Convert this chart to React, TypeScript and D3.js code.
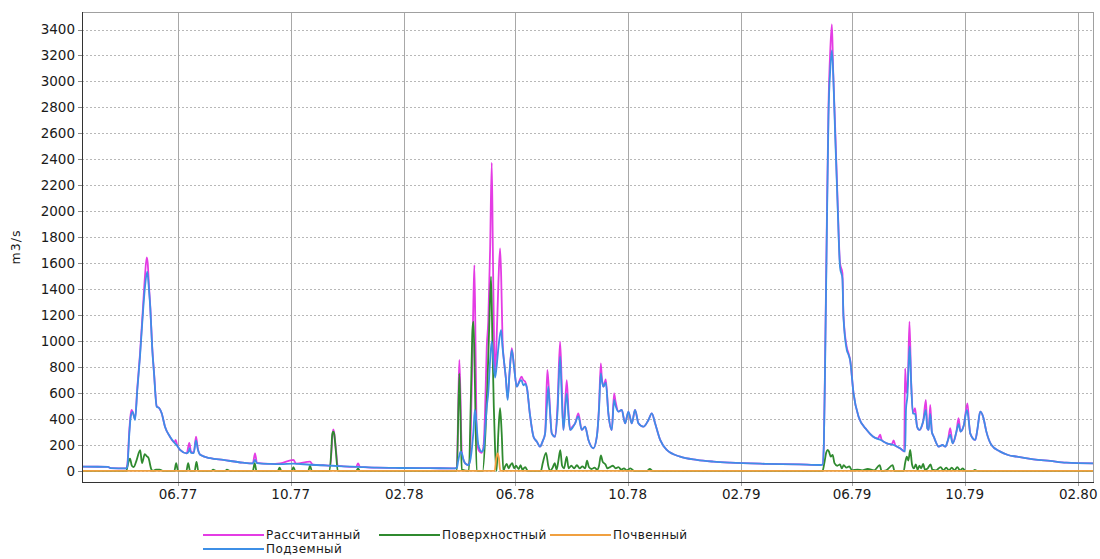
import React from "react";
import * as d3 from "d3";

// Daily runoff model output, 17.02.1977 – 17.02.1980.
// Each series is a list of [day of record, discharge m3/s].
const recordStart = new Date(1977, 1, 17);
const recordEnd = new Date(1980, 1, 17);

const monthTicks = ["1977-06", "1977-10", "1978-02", "1978-06", "1978-10", "1979-02", "1979-06", "1979-10", "1980-02"];
const flowTicks = [0, 200, 400, 600, 800, 1000, 1200, 1400, 1600, 1800, 2000, 2200, 2400, 2600, 2800, 3000, 3200, 3400];

// Рассчитанный (total computed discharge)
const calculated: [number, number][] = [
  [0, 33], [28, 32], [31, 22], [48, 20], [49, 40], [51.3, 320], [52.8, 440], [53.8, 470], [55.5, 440], [57.4, 400],
  [59.9, 640], [62.8, 900], [65.7, 1220], [68, 1480], [70.1, 1645], [71.2, 1600], [72.5, 1430], [74, 1260], [76, 960],
  [78, 760], [80.9, 500], [83.7, 483], [86.3, 444], [89.9, 341], [95.3, 264], [100, 220], [101.5, 239], [103, 200],
  [106.2, 162], [113.4, 136], [116.2, 216], [118, 150], [121, 140], [123.5, 264], [125.5, 170], [128, 125], [139, 98],
  [153, 85], [174, 64], [185, 58], [187.4, 136], [189.5, 62], [204, 54], [214.5, 58], [229, 85], [232, 56], [247, 72],
  [250, 48], [261, 44], [269, 40], [270.5, 190], [272, 320], [273, 300], [275, 170], [277, 40], [283, 36], [297, 32],
  [299, 59], [301, 31], [319, 25], [345, 23], [377, 22], [404, 20],
  [406, 25], [407.5, 500], [408.7, 855], [410, 550], [411.3, 149], [413, 90], [415, 59], [418.5, 46], [420, 80],
  [422, 600], [423.9, 1300], [425, 1586], [426.5, 800], [427.5, 300], [429.3, 165], [433, 140], [435, 200], [436.5, 450],
  [438.4, 957], [440, 1150], [442, 1700], [443.8, 2374], [445, 1700], [446.5, 900], [447.4, 754], [449, 1000],
  [451, 1450], [452.8, 1714], [454, 1500], [455.5, 1000], [457, 850], [459, 720], [461, 560], [463, 750], [465.5, 945],
  [468, 800], [470.9, 649], [474, 700], [476, 726], [478, 700], [480, 688], [482, 636], [485, 444], [489, 264],
  [492.6, 226], [496, 187], [499, 230], [501.6, 290], [504, 778], [505.5, 650], [508.8, 290], [512.4, 264], [515, 500],
  [517.8, 996], [519.5, 700], [521.4, 316], [525, 700], [527, 450], [528.7, 316], [531, 340], [534.1, 367], [537.6, 444],
  [541.3, 316], [544.9, 341], [548.5, 239], [553.9, 175], [557.6, 264], [560, 500], [561.9, 829], [563, 720],
  [564.7, 649], [567.3, 706], [570.1, 444], [573.8, 316], [576.3, 598], [578, 530], [581, 457], [584.6, 470],
  [588.2, 367], [591.8, 457], [595.5, 367], [599, 470], [602.7, 367], [608, 341], [613.5, 393], [617.2, 444],
  [620.7, 367], [626.2, 239], [633.4, 162], [647.8, 110], [665.9, 85], [683.9, 72], [702, 64], [740, 55], [777, 50],
  [800, 46], [802, 48], [803.5, 210], [805, 950], [806.7, 1900], [808.5, 2800], [810.5, 3250], [812.2, 3440],
  [813.5, 3100], [815.7, 2650], [818.2, 2120], [821, 1600], [823.6, 1524], [824.7, 1200], [828.4, 950], [830, 910],
  [832, 855], [835.6, 600], [841, 420], [850, 316], [857, 264], [862, 250], [864.5, 280], [866, 240], [871.7, 213],
  [877, 205], [879, 235], [881, 195], [886, 175], [890.5, 150], [891.5, 790], [893, 600], [894.5, 700], [896.2, 1150],
  [898, 700], [900, 444], [902.3, 483], [904.5, 341], [907, 316], [911, 380], [914, 547], [915.5, 330], [917, 316],
  [918.7, 508], [920.5, 300], [922.5, 264], [928, 187], [932, 200], [935, 187], [938, 240], [940.3, 330], [943, 213],
  [947, 300], [949.4, 406], [951.5, 303], [955, 350], [959, 521], [961, 350], [962, 290], [967.5, 239], [970, 330],
  [972.8, 457], [976, 418], [979.5, 303], [985, 200], [994.5, 149], [1003, 123], [1012.6, 110], [1030.6, 90],
  [1048.6, 77], [1066, 64], [1095, 59],
];

// Поверхностный (surface runoff)
const surface: [number, number][] = [
  [0, 0], [48, 0], [50, 60], [52, 95], [54, 40], [56, 30], [59, 80], [63, 160], [65, 60], [68, 130], [70, 115],
  [72, 100], [75, 15], [77, 0], [80, 10], [84, 10], [88, 0], [100, 0], [102, 60], [104, 0], [113, 0], [115, 60],
  [117, 0], [122, 0], [124, 70], [126, 0], [140, 0], [142, 10], [145, 0], [155, 0], [157, 10], [160, 0], [185, 0],
  [187, 60], [189, 0], [212, 0], [214, 25], [216, 0], [227, 0], [229, 30], [231, 0], [245, 0], [247, 40], [249, 0],
  [268, 0], [270, 150], [271, 280], [272, 303], [273, 290], [275, 150], [277, 0], [297, 0], [299, 20], [301, 0],
  [406, 0], [408.7, 752], [410, 400], [411.3, 10], [419, 0], [421, 500], [423, 1100], [424, 1150], [425.5, 700],
  [427.5, 0], [434, 0], [437, 300], [439, 650], [441, 1100], [443, 1496], [444.5, 1000], [446, 500], [447.5, 150],
  [449, 0], [451, 300], [452.8, 483], [454.5, 300], [456.4, 0], [458, 30], [460, 55], [462, 20], [464, 45], [466, 60],
  [468, 20], [470, 40], [473, 15], [475, 45], [477, 10], [480, 30], [483, 0], [497, 0], [499, 60], [502.6, 140],
  [505, 40], [507, 0], [510, 30], [512, 60], [514, 10], [516, 80], [518, 160], [520, 40], [522, 20], [525, 110],
  [527, 20], [530, 40], [533, 20], [536, 45], [539, 20], [542, 35], [545, 20], [547, 80], [549, 30], [552, 15],
  [555, 25], [558, 10], [560, 40], [562, 120], [564, 70], [567, 50], [569, 20], [572, 30], [575, 40], [578, 20],
  [581, 30], [584, 10], [587, 20], [590, 5], [594, 20], [598, 0], [612, 0], [615, 15], [618, 0], [802, 0], [804, 60],
  [806, 140], [807.5, 162], [809, 150], [811, 110], [813, 123], [815, 60], [818, 40], [821, 50], [823, 20], [825, 45],
  [828, 25], [831, 35], [834, 5], [840, 10], [845, 5], [851, 15], [858, 5], [864, 45], [866, 0], [871, 5], [878, 45],
  [880, 0], [890, 0], [891.5, 60], [893.4, 110], [895, 80], [897, 162], [899, 50], [901, 20], [903, 50], [905, 10],
  [907, 40], [909, 20], [911, 55], [913, 10], [916, 20], [919, 50], [921, 10], [925, 5], [930, 30], [933, 5],
  [936, 25], [939, 5], [942, 25], [945, 5], [948, 30], [951, 5], [954, 20], [957, 0], [965, 0], [967, 8], [970, 0],
  [1095, 0],
];

// Почвенный (soil / interflow)
const soil: [number, number][] = [
  [0, 0], [447, 0], [448.5, 90], [450, 136], [451.5, 100], [453, 0], [1095, 0],
];

// Подземный (groundwater)
const ground: [number, number][] = [
  [0, 33], [28, 32], [31, 22], [48, 20], [49, 30], [51.3, 292], [52.8, 418], [54.9, 455], [57.4, 393], [59.9, 624],
  [62.8, 880], [65.7, 1188], [68, 1400], [70.7, 1535], [72.5, 1400], [74, 1250], [76, 950], [78, 752], [80.9, 495],
  [83.7, 483], [86.3, 444], [89.9, 341], [95.3, 264], [100.7, 213], [103, 195], [106.2, 162], [113.4, 136],
  [115.5, 150], [116.5, 175], [118, 140], [121, 138], [123.5, 235], [125.5, 165], [128, 125], [139, 98], [153, 85],
  [174, 64], [185, 58], [187.4, 85], [189.5, 60], [204, 54], [215, 52], [229, 56], [247, 48], [261, 44], [271, 40],
  [283, 36], [299, 32], [319, 25], [345, 23], [377, 22], [404, 20],
  [406, 25], [407.5, 80], [408.7, 120], [410, 149], [411.3, 140], [413, 90], [415, 59], [418.5, 46], [421, 100],
  [423.9, 300], [425.5, 470], [427, 380], [429.3, 200], [433, 149], [435, 170], [437, 350], [438.4, 495], [440, 600],
  [442, 850], [443.8, 1000], [445.5, 850], [447.4, 720], [449, 800], [451, 950], [453.9, 1086], [455.5, 950],
  [457, 850], [459, 720], [461, 547], [463, 750], [465.5, 930], [468, 800], [470.9, 649], [474, 690], [476, 700],
  [478, 660], [480, 670], [482, 636], [485, 444], [489, 264], [492.6, 226], [496, 187], [499, 230], [501.6, 290],
  [503.5, 500], [505, 649], [506.5, 500], [508.8, 290], [512.4, 264], [515, 450], [517.8, 880], [519.5, 600],
  [521.4, 316], [525, 598], [527, 420], [528.7, 316], [531, 330], [534.1, 367], [537.6, 420], [541.3, 316],
  [544.9, 341], [548.5, 239], [553.9, 175], [557.6, 264], [560, 480], [561.9, 752], [563, 700], [564.7, 649],
  [567.3, 680], [570.1, 444], [573.8, 316], [576.3, 547], [578, 500], [581, 457], [584.6, 470], [588.2, 367],
  [591.8, 457], [595.5, 367], [599, 470], [602.7, 367], [608, 341], [613.5, 393], [617.2, 444], [620.7, 367],
  [626.2, 239], [633.4, 162], [647.8, 110], [665.9, 85], [683.9, 72], [702, 64], [740, 55], [777, 50],
  [800, 46], [802, 48], [803.5, 200], [805, 900], [806.7, 1830], [808.5, 2730], [810.5, 3100], [812.2, 3240],
  [814, 2985], [815.7, 2600], [818.2, 2090], [821, 1570], [823.6, 1480], [824.7, 1190], [828.4, 930], [830, 900],
  [832, 850], [835.6, 600], [841, 420], [850, 316], [857, 264], [864.5, 240], [871.7, 213], [879, 200], [886, 175],
  [891.5, 150], [892.5, 480], [894, 580], [895.5, 850], [896.5, 960], [898, 680], [900, 444], [902.3, 440],
  [904.5, 341], [907, 316], [911, 380], [914, 470], [915.5, 330], [917, 316], [918.7, 440], [920.5, 300],
  [922.5, 264], [928, 187], [932, 200], [935, 187], [938, 240], [940.3, 280], [943, 213], [947, 300], [949.4, 360],
  [951.5, 303], [955, 350], [958.5, 470], [961, 350], [962, 290], [967.5, 239], [970, 330], [972.8, 457], [976, 418],
  [979.5, 303], [985, 200], [994.5, 149], [1003, 123], [1012.6, 110], [1030.6, 90], [1048.6, 77], [1066, 64],
  [1095, 59],
];

const seriesNames = ["Рассчитанный", "Поверхностный", "Почвенный", "Подземный"];
const seriesColors = ["#e43ce4", "#2f8a2f", "#f0a040", "#3d8fe6"];
const seriesData = [calculated, surface, soil, ground];

const plot = { left: 82, top: 12, right: 1093, bottom: 482 };
const font = "'DejaVu Sans', Verdana, sans-serif";

const dayToDate = (d: number) => new Date(recordStart.getTime() + d * 86400000);

export default function App() {
  const x = d3.scaleTime().domain([recordStart, recordEnd]).range([plot.left, plot.right]);
  const y = d3.scaleLinear().domain([-85, 3535]).range([plot.bottom, plot.top]);
  const parseMonth = d3.timeParse("%Y-%m");
  const fmt = d3.timeFormat("%m.%y");
  const ticks = monthTicks.map((m) => parseMonth(m) as Date);

  const line = d3
    .line<[number, number]>()
    .x((p) => x(dayToDate(p[0])))
    .y((p) => y(p[1]))
    .curve(d3.curveMonotoneX);

  const legend = [
    { i: 0, lx: 203, ly: 535 },
    { i: 1, lx: 379, ly: 535 },
    { i: 2, lx: 550, ly: 535 },
    { i: 3, lx: 203, ly: 549 },
  ];

  return (
    <svg
      width={1100}
      height={559}
      style={{ position: "absolute", left: 0, top: 0, background: "#fff" }}
      fontFamily={font}
    >
      <rect x={0} y={0} width={1100} height={559} fill="#fff" />
      {/* horizontal dotted grid */}
      {flowTicks.map((t) => (
        <line
          key={"h" + t}
          x1={plot.left}
          x2={plot.right}
          y1={Math.round(y(t)) + 0.5}
          y2={Math.round(y(t)) + 0.5}
          stroke="#b8b8b8"
          strokeDasharray="2,2"
        />
      ))}
      {/* vertical grid */}
      {ticks.map((t, i) => (
        <line
          key={"v" + i}
          x1={Math.round(x(t)) + 0.5}
          x2={Math.round(x(t)) + 0.5}
          y1={plot.top}
          y2={plot.bottom + 4}
          stroke="#a8a8a8"
        />
      ))}
      {/* frame */}
      <rect
        x={plot.left + 0.5}
        y={plot.top + 0.5}
        width={plot.right - plot.left}
        height={plot.bottom - plot.top}
        fill="none"
        stroke="#a0a0a0"
      />
      {/* series */}
      {seriesData.map((d, i) => (
        <path
          key={"s" + i}
          d={line(d) || ""}
          fill="none"
          stroke={seriesColors[i]}
          strokeWidth={1.8}
          strokeLinejoin="round"
        />
      ))}
      {/* axes */}
      <line x1={plot.left + 0.5} x2={plot.left + 0.5} y1={plot.top} y2={plot.bottom + 1} stroke="#333" />
      <line x1={plot.left} x2={plot.right + 1} y1={plot.bottom + 0.5} y2={plot.bottom + 0.5} stroke="#333" />
      {flowTicks.map((t) => (
        <g key={"yt" + t}>
          <line
            x1={plot.left - 4}
            x2={plot.left}
            y1={Math.round(y(t)) + 0.5}
            y2={Math.round(y(t)) + 0.5}
            stroke="#888"
          />
          <text x={plot.left - 7} y={y(t)} dy="0.36em" textAnchor="end" fontSize={13.5} fill="#1a1a1a">
            {t}
          </text>
        </g>
      ))}
      {ticks.map((t, i) => (
        <text key={"xt" + i} x={x(t)} y={plot.bottom + 17} textAnchor="middle" fontSize={13.5} fill="#1a1a1a">
          {fmt(t)}
        </text>
      ))}
      <text
        transform={`translate(20,${(plot.top + plot.bottom) / 2}) rotate(-90)`}
        textAnchor="middle"
        fontSize={12.5}
        fill="#1a1a1a"
        letterSpacing={1}
      >
        m3/s
      </text>
      {/* legend */}
      {legend.map((l) => (
        <g key={"lg" + l.i}>
          <line x1={l.lx} x2={l.lx + 61} y1={l.ly} y2={l.ly} stroke={seriesColors[l.i]} strokeWidth={2} />
          <text x={l.lx + 63} y={l.ly} dy="0.35em" fontSize={12} fill="#1a1a1a" letterSpacing={0.4}>
            {seriesNames[l.i]}
          </text>
        </g>
      ))}
    </svg>
  );
}
